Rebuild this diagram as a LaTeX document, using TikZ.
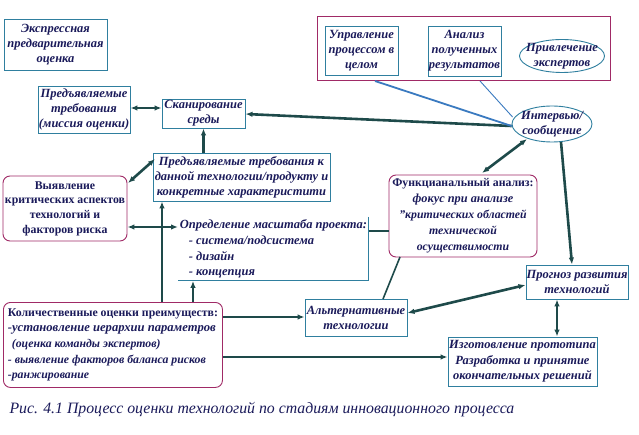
\documentclass[tikz,border=0pt]{standalone}
\usepackage{fontspec}
\setmainfont{Liberation Serif}
\usetikzlibrary{arrows.meta,shapes.geometric}
\definecolor{bx}{HTML}{2F7F9F}
\definecolor{tx}{HTML}{1A1A5A}
\definecolor{pk}{HTML}{A02A66}
\definecolor{ln}{HTML}{1E4A4A}
\definecolor{bl}{HTML}{3A7AC0}
\tikzset{
  box/.style={draw=bx, line width=0.9pt, text=tx, align=center, inner sep=0.5pt,
    font=\fontsize{12.5}{15}\selectfont\bfseries\itshape},
  rbox/.style={draw=pk, line width=0.9pt, rounded corners=7pt, text=tx, align=center, inner sep=0.5pt,
    font=\fontsize{11.8}{14.7}\selectfont\bfseries},
  ell/.style={ellipse, draw=bx, line width=0.9pt, inner sep=0pt},
  etext/.style={text=tx, align=center, inner sep=0pt, font=\fontsize{12.5}{15}\selectfont\bfseries\itshape},
  conn/.style={draw=ln, line width=2.6pt},
  tip/.tip={Latex[length=7pt,width=5.5pt]},
  blue/.style={draw=bl},
}
\begin{document}
\begin{tikzpicture}[x=1pt,y=-1pt]
\useasboundingbox[fill=white] (0,0) rectangle (639,435);
% outer pink frame
\node[draw=pk, line width=1pt, minimum width=293, minimum height=64, inner sep=0] (frame) at (463.5,49) {};
% boxes
\node[box, minimum width=103, minimum height=51] (expr) at (55.5,44.5) {Экспрессная\\предварительная\\оценка};
\node[box, minimum width=92, minimum height=47] (mis) at (84,109.5) {Предъявляемые\\требования\\(миссия оценки)};
\node[box, minimum width=83, minimum height=29] (scan) at (203.5,113.5) {Сканирование\\среды};
\node[box, minimum width=73, minimum height=49] (upr) at (361.5,50.5) {Управление\\процессом в\\целом};
\node[box, minimum width=73, minimum height=50] (anl) at (464.5,51) {Анализ\\полученных\\результатов};
\node[ell, minimum width=85, minimum height=33] (exp) at (562,56) {};
\node[etext] (expt) at (exp.center) {Привлечение\\экспертов};
\node[ell, minimum width=80, minimum height=36] (int) at (552,124) {};
\node[etext] (intt) at (int.center) {Интервью/\\сообщение};
\node[box, minimum width=177, minimum height=48] (treb) at (241.5,177) {Предъявляемые требования к\\данной технологии/продукту и\\конкретные характеристити};
\node[rbox, minimum width=124, minimum height=65] (vyav) at (65,208.5) {Выявление\\критических аспектов\\технологий и\\факторов риска};
\node[box, draw=none, minimum width=190, minimum height=63, align=left, anchor=north west, font=\fontsize{12.5}{15.7}\selectfont\bfseries\itshape] (opr) at (178,217) {Определение масштаба проекта:\\\hspace*{9pt}- система/подсистема\\\hspace*{9pt}- дизайн\\\hspace*{9pt}- концепция};
\draw[bx, line width=0.9pt] (opr.north east) -- (opr.south east) -- (opr.south west);
\node[rbox, minimum width=148, minimum height=82, font=\fontsize{11.8}{16}\selectfont\bfseries] (fun) at (463,216) {Функцианальный анализ:\\\fontsize{12.3}{16}\selectfont\itshape фокус при анализе\\\itshape "критических областей\\\itshape технической\\\itshape осуществимости};
\node[box, minimum width=102, minimum height=34] (prog) at (577,282) {Прогноз развития\\технологий};
\node[box, minimum width=102, minimum height=37] (alt) at (356,317.5) {Альтернативные\\технологии};
\node[rbox, minimum width=219, minimum height=85, align=left, anchor=north west, font=\fontsize{11.8}{15.6}\selectfont\bfseries] (kol) at (3,302) {Количественные оценки преимуществ:\\\fontsize{12.6}{15.6}\selectfont\itshape -установление иерархии параметров\\\itshape \hspace*{4pt}(оценка команды экспертов)\\\itshape - выявление факторов баланса рисков\\\itshape -ранжирование};
\node[box, minimum width=149, minimum height=49, font=\fontsize{12.5}{15.5}\selectfont\bfseries\itshape] (izg) at (522.5,361.5) {Изготовление прототипа\\Разработка и принятие\\окончательных решений};
% caption
\node[anchor=west, text=tx, font=\fontsize{15.8}{18}\selectfont\itshape] (cap) at (6,410) {Рис. 4.1 Процесс оценки технологий по стадиям инновационного процесса};
% coordinates
\coordinate (f1) at (375,81);
\coordinate (f2) at (480,81);
% connectors
\draw[conn, tip-tip] (mis.east |- 0,108) -- (scan.west |- 0,108);
\draw[conn, -tip] ([yshift=-2pt]int.west) -- (scan.east |- 0,114);
\draw[blue, line width=1.8pt] (f1) -- ([yshift=-2pt]int.west);
\draw[blue, line width=0.9pt] (f2) -- ([shift={(1pt,7pt)}]int.west);
\draw[conn, tip-] (scan.south) -- (treb.north -| scan.south);
\draw[conn, tip-tip] (155,159) -- (128,183);
\draw[conn, tip-tip] (opr.west |- 0,227) -- (vyav.east |- 0,227);
\draw[conn, tip-] (treb.south -| 162,0) -- (kol.north -| 162,0);
\draw[conn, tip-] (opr.south -| 193,0) -- (kol.north -| 193,0);
\draw[conn] (opr.east |- 0,231) -- (fun.west |- 0,231);
\draw[conn, tip-tip] (527,139) -- (482,173);
\draw[conn, -tip] (561,142) -- (prog.north -| 572,0);
\draw[ln, line width=1.6pt] (400,257) -- (383,299);
\draw[conn, tip-tip] (prog.west |- 0,285) -- (alt.east |- 0,313);
\draw[conn, tip-tip] (prog.south -| 557,0) -- (izg.north -| 557,0);
\draw[conn, -tip] (kol.east |- 0,317) -- (alt.west |- 0,317);
\draw[conn, -tip] (kol.east |- 0,357) -- (izg.west |- 0,357);
\end{tikzpicture}
\end{document}
